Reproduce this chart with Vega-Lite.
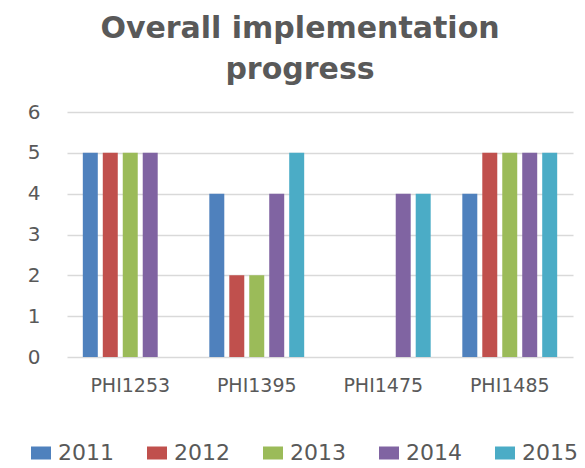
{
  "$schema": "https://vega.github.io/schema/vega-lite/v6.json",
  "width": 506,
  "height": 245,
  "autosize": {"type": "none"},
  "padding": {"left": 67, "top": 112, "right": 12, "bottom": 111},
  "background": "white",
  "title": {
    "text": ["Overall implementation", "progress"],
    "font": "DejaVu Sans",
    "fontSize": 30,
    "fontWeight": "bold",
    "color": "#595959",
    "lineHeight": 41,
    "anchor": "middle",
    "dx": -20,
    "offset": 17
  },
  "data": {
    "values": [
      {"site": "PHI1253", "year": "2011", "value": 5},
      {"site": "PHI1253", "year": "2012", "value": 5},
      {"site": "PHI1253", "year": "2013", "value": 5},
      {"site": "PHI1253", "year": "2014", "value": 5},
      {"site": "PHI1395", "year": "2011", "value": 4},
      {"site": "PHI1395", "year": "2012", "value": 2},
      {"site": "PHI1395", "year": "2013", "value": 2},
      {"site": "PHI1395", "year": "2014", "value": 4},
      {"site": "PHI1395", "year": "2015", "value": 5},
      {"site": "PHI1475", "year": "2014", "value": 4},
      {"site": "PHI1475", "year": "2015", "value": 4},
      {"site": "PHI1485", "year": "2011", "value": 4},
      {"site": "PHI1485", "year": "2012", "value": 5},
      {"site": "PHI1485", "year": "2013", "value": 5},
      {"site": "PHI1485", "year": "2014", "value": 5},
      {"site": "PHI1485", "year": "2015", "value": 5}
    ]
  },
  "mark": {"type": "bar"},
  "encoding": {
    "x": {
      "field": "site",
      "type": "nominal",
      "sort": ["PHI1253", "PHI1395", "PHI1475", "PHI1485"],
      "scale": {"paddingInner": 0.25, "paddingOuter": 0.125},
      "axis": {
        "title": null,
        "labelAngle": 0,
        "labelFont": "DejaVu Sans",
        "labelFontSize": 19,
        "labelColor": "#595959",
        "labelPadding": 19,
        "domain": false,
        "ticks": false
      }
    },
    "xOffset": {
      "field": "year",
      "type": "nominal",
      "scale": {"domain": ["2011", "2012", "2013", "2014", "2015"], "paddingInner": 0.25, "paddingOuter": 0}
    },
    "y": {
      "field": "value",
      "type": "quantitative",
      "scale": {"domain": [0, 6], "nice": false},
      "axis": {
        "title": null,
        "values": [0, 1, 2, 3, 4, 5, 6],
        "labelOverlap": false,
        "labelFont": "DejaVu Sans",
        "labelFontSize": 20,
        "labelColor": "#595959",
        "labelPadding": 27,
        "domain": false,
        "ticks": false,
        "gridColor": "#d9d9d9",
        "gridWidth": 1.5
      }
    },
    "color": {
      "field": "year",
      "type": "nominal",
      "scale": {
        "domain": ["2011", "2012", "2013", "2014", "2015"],
        "range": ["#4F81BD", "#C0504D", "#9BBB59", "#8064A2", "#4BACC6"]
      },
      "legend": {
        "title": null,
        "orient": "none",
        "direction": "horizontal",
        "legendX": -37,
        "legendY": 330,
        "padding": 0,
        "symbolType": "M-1,-0.65H1V0.65H-1Z",
        "symbolSize": 400,
        "symbolStrokeWidth": 0,
        "labelFont": "DejaVu Sans",
        "labelFontSize": 22,
        "labelColor": "#595959",
        "labelOffset": 6,
        "columnPadding": 32
      }
    }
  },
  "config": {"view": {"stroke": null}}
}
